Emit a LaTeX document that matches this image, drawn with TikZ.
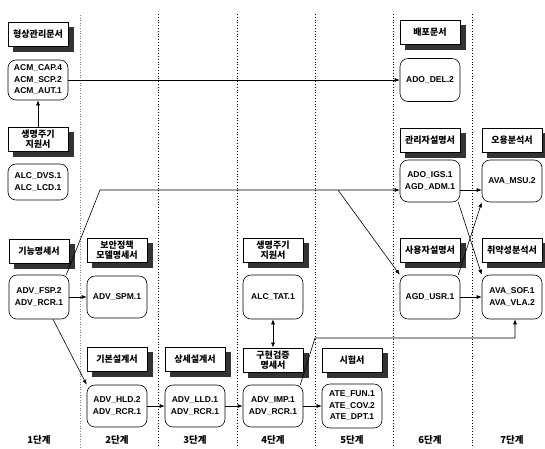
\documentclass[tikz,border=0pt]{standalone}
\usepackage{fontspec}
\setmainfont{Liberation Sans}
\newfontfamily\kr{Noto Sans CJK KR}
\usetikzlibrary{arrows.meta}

\tikzset{
  docbox/.style={draw, fill=white, line width=0.8pt, minimum width=60pt,
    minimum height=24pt, inner sep=1pt, align=center,
    font=\kr\bfseries\fontsize{9}{10.5}\selectfont},
  docshadow/.style={fill=black!80, draw=black!80, minimum width=60pt,
    minimum height=24pt, inner sep=0pt},
  reqbox/.style={draw, rounded corners=8pt, minimum width=60pt,
    minimum height=42pt, inner sep=2pt, align=center,
    font=\bfseries\fontsize{8.5}{11.5}\selectfont},
  stage/.style={font=\kr\bfseries\fontsize{9.5}{11}\selectfont}
}
% document title with its shadow
\newcommand{\docnode}[4]{%
  \node[docshadow] (#1s) at (#2+5,#3+5) {};
  \node[docbox] (#1) at (#2,#3) {#4};}

\begin{document}
\begin{tikzpicture}[x=1pt,y=-1pt,>={Latex[length=5pt,width=4pt]},line width=0.6pt]
    \useasboundingbox (0,0) rectangle (545,448);

    % stage dividers
    \draw[dotted, gray] (80,15) -- (80,448);
    \foreach \x in {158,237,315,393,472}
        \draw[dotted, line width=0.8pt] (\x,14) -- (\x,448);

    \docnode{tcm}{38}{34}{형상관리문서}
    \node[reqbox, minimum height=40pt] (acm) at (38,80) {ACM\_CAP.4\\ACM\_SCP.2\\ACM\_AUT.1};
    \docnode{tlc1}{38}{139}{생명주기\\지원서}
    \node[reqbox, minimum height=36pt] (alc1) at (38,182) {ALC\_DVS.1\\ALC\_LCD.1};
    \docnode{tfsp}{39}{251}{기능명세서}
    \node[reqbox, minimum height=44pt] (fsp) at (39,297) {ADV\_FSP.2\\ADV\_RCR.1};

    \docnode{tspm}{117}{250}{보안정책\\모델명세서}
    \node[reqbox] (spm) at (117,297) {ADV\_SPM.1};
    \docnode{thld}{117}{359}{기본설계서}
    \node[reqbox] (hld) at (117,406) {ADV\_HLD.2\\ADV\_RCR.1};

    \docnode{tlld}{195}{359}{상세설계서}
    \node[reqbox] (lld) at (195,406) {ADV\_LLD.1\\ADV\_RCR.1};

    \docnode{tlc4}{273}{250}{생명주기\\지원서}
    \node[reqbox, minimum height=44pt] (tat) at (273,297) {ALC\_TAT.1};
    \docnode{timp}{273}{360}{구현검증\\명세서}
    \node[reqbox] (imp) at (273,406) {ADV\_IMP.1\\ADV\_RCR.1};

    \docnode{tte}{352}{360}{시험서}
    \node[reqbox, minimum height=44pt] (ate) at (352,406) {ATE\_FUN.1\\ATE\_COV.2\\ATE\_DPT.1};

    \docnode{tdel}{430}{32}{배포문서}
    \node[reqbox, minimum height=43pt] (del) at (430,80) {ADO\_DEL.2};
    \docnode{tigs}{430}{140}{관리자설명서}
    \node[reqbox] (igs) at (430,181) {ADO\_IGS.1\\AGD\_ADM.1};
    \docnode{tusr}{430}{250}{사용자설명서}
    \node[reqbox, minimum height=44pt] (usr) at (430,297) {AGD\_USR.1};

    \docnode{tmsu}{512}{140}{오용분석서}
    \node[reqbox] (msu) at (512,181) {AVA\_MSU.2};
    \docnode{tvla}{512}{250}{취약성분석서}
    \node[reqbox, minimum height=44pt] (vla) at (512,297) {AVA\_SOF.1\\AVA\_VLA.2};

    \coordinate (k1) at (100,190);
    \coordinate (k2) at (338,190);
    \coordinate (k3) at (315,338);
    \coordinate (k4) at (515,338);

    \draw[->] (acm) -- (del);
    \draw[->] (tlc1) -- (acm);
    \draw[->] ([xshift=-3pt]fsp.north east) -- (k1) -- (k1 -| igs.west);
    \draw[->] (k2) -- (usr.north west);
    \draw[->] (fsp) -- (spm);
    \draw[->] ([xshift=14pt]fsp.south) -- (hld.north west);
    \draw[->] (hld) -- (lld);
    \draw[->] (lld) -- (imp);
    \draw[->] (imp) -- (ate);
    \draw[<->] (tat) -- (timp);
    \draw[->] ([xshift=-3pt]imp.north east) -- (k3) -- (k4) -- (k4 |- vla.south);
    \draw[->] (k1 -| igs.east) -- (k1 -| msu.west);
    \draw[->] (usr) -- (vla);
    \draw[->] ([xshift=-2pt]igs.south east) -- (vla.north west);
    \draw[->] ([xshift=-2pt]usr.north east) -- (msu.south west);

    % stages
    \foreach \i/\x in {1/39,2/117,3/195,4/273,5/352,6/430,7/512}
        \node[stage] (s\i) at (\x,440) {\i 단계};
\end{tikzpicture}
\end{document}
